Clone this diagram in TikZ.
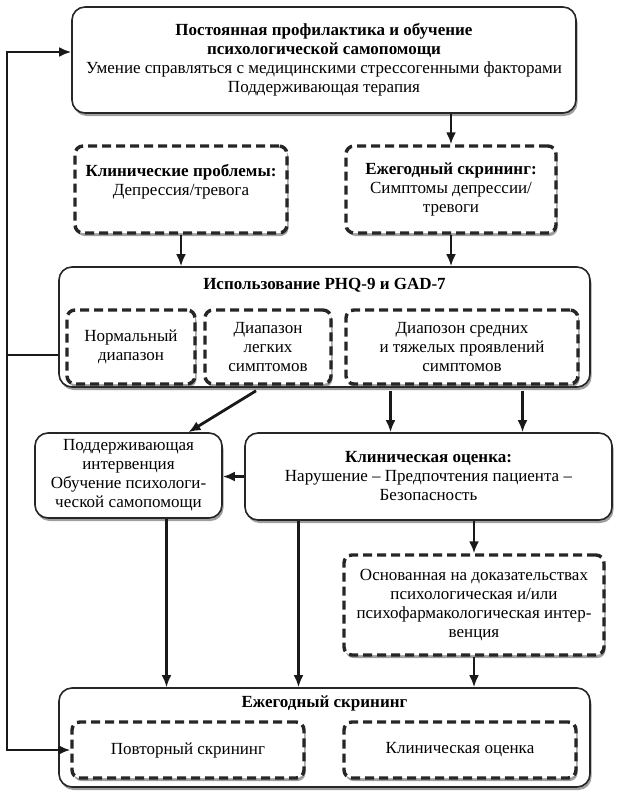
\documentclass[tikz,border=0pt]{standalone}
\usepackage{fontspec}
\setmainfont{Liberation Serif}
\usepackage{tikz}
\usetikzlibrary{positioning, arrows.meta, shadows, calc}

\begin{document}
\begin{tikzpicture}[
    x=1pt, y=-1pt,
    font=\fontsize{17}{19}\selectfont,
    every node/.style={align=center, inner sep=0pt},
    shade/.style={drop shadow={shadow xshift=1.5pt, shadow yshift=-3pt, fill=black!75, opacity=.5}},
    box/.style={draw=black!85, line width=1.6pt, rounded corners=13pt, fill=white, shade},
    dashbox/.style={draw=black!85, line width=3.4pt, dash pattern=on 9pt off 5pt, rounded corners=8pt, fill=white, shade},
    flow/.style={draw=black!90, line width=2.8pt, -{Latex[length=12pt,width=10pt]}},
    heading/.style={font=\fontsize{17}{19}\selectfont\bfseries}
]
    \useasboundingbox (0,0) rectangle (617,800);

    % Prevention at the top
    \node[box, minimum width=504pt, minimum height=106pt] (top) at (324,60)
        {\textbf{Постоянная профилактика и обучение}\\\textbf{психологической самопомощи}\\Умение справляться с медицинскими стрессогенными факторами\\Поддерживающая терапия};

    % Two entry points
    \node[dashbox, minimum width=212pt, minimum height=87pt] (clinL) at (181,189.5)
        {\textbf{Клинические проблемы:}\\Депрессия/тревога\\ \mbox{}};
    \node[dashbox, minimum width=210pt, minimum height=87pt] (screenR) at (451,189.5)
        {\textbf{Ежегодный скрининг:}\\Симптомы депрессии/\\тревоги};

    % PHQ-9 / GAD-7 with its three ranges
    \node[box, minimum width=531pt, minimum height=120pt] (phq) at (324.5,327) {};
    \node[heading] (phqTitle) at (324.5,285) {Использование PHQ-9 и GAD-7};
    \node[dashbox, minimum width=128pt, minimum height=74pt] (normal) at (131,347) {Нормальный\\диапазон};
    \node[dashbox, minimum width=126pt, minimum height=74pt] (mild) at (268,347) {Диапазон\\легких\\симптомов};
    \node[dashbox, minimum width=232pt, minimum height=74pt] (severe) at (462,347)
        {Диапозон средних\\и тяжелых проявлений\\симптомов};

    % Interventions
    \node[box, minimum width=187pt, minimum height=85pt] (support) at (128.5,475.5)
        {Поддерживающая\\интервенция\\Обучение психологи-\\ческой самопомощи};
    \node[box, minimum width=367pt, minimum height=87pt] (clinical) at (428.5,476.5)
        {\textbf{Клиническая оценка:}\\Нарушение -- Предпочтения пациента --\\Безопасность};
    \node[dashbox, minimum width=260pt, minimum height=100pt] (evidence) at (474,605)
        {Основанная на доказательствах\\психологическая и/или\\психофармакологическая интер-\\венция};

    % Annual screening at the bottom
    \node[box, minimum width=531pt, minimum height=99pt] (screen) at (324.5,737.5) {};
    \node[heading] (screenTitle) at (324.5,703) {Ежегодный скрининг};
    \node[dashbox, minimum width=232pt, minimum height=56pt] (rescreen) at (188,750) {Повторный скрининг};
    \node[dashbox, minimum width=232pt, minimum height=56pt] (clinEval) at (460,750) {Клиническая оценка};

    % Down the middle
    \draw[flow] (screenR.north |- top.south) -- (screenR.north);
    \draw[flow] (clinL.south) -- (clinL.south |- phq.north);
    \draw[flow] (screenR.south) -- (screenR.south |- phq.north);
    \draw[flow] ($(mild.south |- phq.south)+(-12,3)$) -- ($(support.north)+(60,0)$);
    \draw[flow] ($(phq.south -| clinical.north)+(-38,3)$) -- ($(clinical.north)+(-38,0)$);
    \draw[flow] ($(phq.south -| clinical.north)+(94,3)$) -- ($(clinical.north)+(94,0)$);
    \draw[flow] (clinical.west) -- (support.east |- clinical.west);
    \draw[flow] (evidence.north |- clinical.south) -- (evidence.north);
    \draw[flow] ($(support.south)+(38,0)$) -- ($(support.south |- screen.north)+(38,0)$);
    \draw[flow] ($(clinical.south)+(-130,0)$) -- ($(clinical.south |- screen.north)+(-130,0)$);
    \draw[flow] (evidence.south) -- (evidence.south |- screen.north);

    % Loop back along the left side
    \coordinate (loopTop) at (7,52);
    \coordinate (loopMid) at (7,355);
    \draw[flow] (loopMid -| phq.west) -- (loopMid) |- (loopTop -| top.west);
    \draw[flow] (loopMid) |- (rescreen.west);
\end{tikzpicture}
\end{document}
